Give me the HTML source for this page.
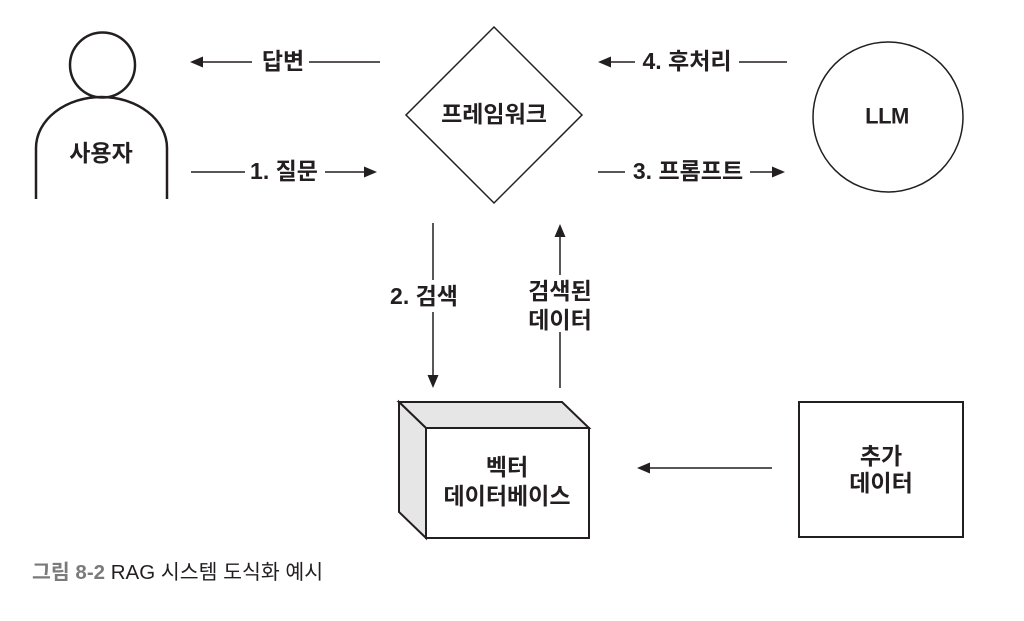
<!DOCTYPE html>
<html>
<head>
<meta charset="utf-8">
<style>
  html,body{margin:0;padding:0;background:#fff;}
  svg{display:block;}
  text{font-family:"Liberation Sans","Noto Sans CJK KR",sans-serif;fill:#231f20;}
  .b{font-weight:bold;font-size:23px;}
</style>
</head>
<body>
<svg width="1024" height="621" viewBox="0 0 1024 621" xmlns="http://www.w3.org/2000/svg">
  <rect width="1024" height="621" fill="#fff"/>
  <g stroke="#231f20" fill="none">
    <!-- person -->
    <circle cx="102.5" cy="65" r="32.5" stroke-width="2.5"/>
    <path d="M36,199 V148 A65.5,51 0 0 1 167,148 V199" stroke-width="2.5"/>
    <!-- diamond -->
    <polygon points="494,27 582,115 494,203 406,115" stroke-width="1.5"/>
    <!-- LLM circle -->
    <circle cx="888" cy="117" r="75" stroke-width="1.5"/>
    <!-- 3D box -->
    <polygon points="399,402 562,402 589,428 426,428" fill="#e6e6e6" stroke-width="2"/>
    <polygon points="399,402 426,428 426,538 399,512" fill="#e6e6e6" stroke-width="2"/>
    <rect x="426" y="428" width="163" height="110" fill="#fff" stroke-width="2"/>
    <!-- extra data box -->
    <rect x="799" y="402" width="164" height="135" stroke-width="2"/>

    <g stroke-width="1.5">
      <line x1="200" y1="62" x2="252" y2="62"/>
      <line x1="309" y1="62" x2="380" y2="62"/>
      <line x1="191" y1="172" x2="245" y2="172"/>
      <line x1="325" y1="172" x2="367" y2="172"/>
      <line x1="608" y1="62" x2="635" y2="62"/>
      <line x1="739" y1="62" x2="787" y2="62"/>
      <line x1="598" y1="172" x2="625" y2="172"/>
      <line x1="750" y1="172" x2="775" y2="172"/>
      <line x1="433" y1="223" x2="433" y2="280"/>
      <line x1="433" y1="312" x2="433" y2="378"/>
      <line x1="560" y1="235" x2="560" y2="275"/>
      <line x1="560" y1="332" x2="560" y2="388"/>
      <line x1="648" y1="468" x2="772" y2="468"/>
    </g>
  </g>
  <g fill="#231f20">
    <polygon points="190,62 203,56.5 203,67.5"/>
    <polygon points="377,172 364,166.5 364,177.5"/>
    <polygon points="598,62 611,56.5 611,67.5"/>
    <polygon points="785,172 772,166.5 772,177.5"/>
    <polygon points="433,388 427.5,375 438.5,375"/>
    <polygon points="560,224 554.5,237 565.5,237"/>
    <polygon points="637,468 650,462.5 650,473.5"/>
  </g>

  <g text-anchor="middle" dominant-baseline="central">
    <text class="b" x="101" y="153">사용자</text>
    <text class="b" x="283" y="61">답변</text>
    <text class="b" x="284" y="171">1. 질문</text>
    <text class="b" x="494" y="114">프레임워크</text>
    <text class="b" x="687" y="61">4. 후처리</text>
    <text class="b" x="688" y="171">3. 프롬프트</text>
    <text class="b" x="887" y="116" style="font-size:22px;letter-spacing:-0.5px">LLM</text>
    <text class="b" x="424" y="296">2. 검색</text>
    <text class="b" x="560" y="291">검색된</text>
    <text class="b" x="560" y="320">데이터</text>
    <text class="b" x="507" y="467">벡터</text>
    <text class="b" x="507" y="496">데이터베이스</text>
    <text class="b" x="881" y="456">추가</text>
    <text class="b" x="881" y="483">데이터</text>
  </g>

  <text x="32" y="579" style="font-size:20.5px;"><tspan style="font-weight:bold;fill:#7a7a7a">그림 8-2</tspan> RAG 시스템 도식화 예시</text>
</svg>
</body>
</html>
